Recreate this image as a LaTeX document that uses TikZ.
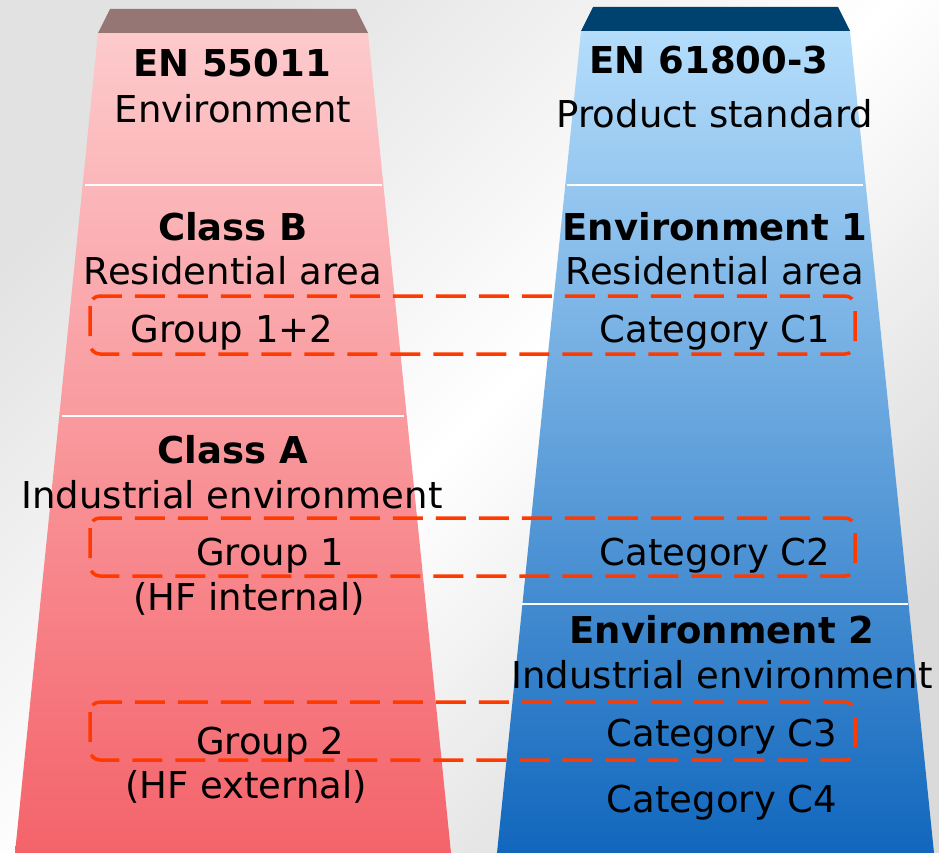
\documentclass[tikz,border=0pt]{standalone}
\usepackage{fontspec}
\setmainfont{DejaVu Sans}
\definecolor{bgA}{HTML}{E2E2E2}
\definecolor{bgB}{HTML}{DADADA}
\definecolor{pinkTop}{HTML}{FDCACC}
\definecolor{pinkMid}{HTML}{F9A6AA}
\definecolor{pinkBot}{HTML}{F4636A}
\definecolor{blueTop}{HTML}{B4DDFB}
\definecolor{blueMid}{HTML}{98C2EE}
\definecolor{blueBot}{HTML}{1167BD}
\definecolor{capL}{HTML}{957675}
\definecolor{capR}{HTML}{00426F}
\definecolor{dashred}{RGB}{255,58,0}
\begin{document}
\begin{tikzpicture}[x=1pt,y=-1pt,
  txt/.style={font=\fontsize{37}{44}\selectfont, anchor=base, inner sep=0pt},
  btxt/.style={font=\fontsize{37}{44}\selectfont\bfseries, anchor=base, inner sep=0pt},
  sepline/.style={draw=white, line width=2.5pt},
  dbox/.style={draw=dashred, line width=3.5pt, rounded corners=10pt, dash pattern=on 30pt off 13pt}]
\useasboundingbox (0,0) rectangle (939,853);
% background
\shade[top color=bgA, bottom color=bgB, middle color=white, shading angle=45] (0,0) rectangle (939,853);
% left column
\shade[top color=pinkTop, middle color=pinkMid, bottom color=pinkBot] (98,33) -- (368,33) -- (451,853) -- (15,853) -- cycle;
\fill[capL] (110,9) -- (356,9) -- (368,33) -- (98,33) -- cycle;
% right column
\shade[top color=blueTop, middle color=blueMid, bottom color=blueBot] (581,31) -- (850,31) -- (934,853) -- (497,853) -- cycle;
\fill[capR] (593,7) -- (838,7) -- (850,31) -- (581,31) -- cycle;
% separators
\draw[sepline] (85,185) -- (382,185);
\draw[sepline] (62,416) -- (404,416);
\draw[sepline] (567,185) -- (863,185);
\draw[sepline] (522,604) -- (908,604);
% dashed boxes
\draw[dbox] (90,296) rectangle (855,354);
\draw[dbox] (90,518) rectangle (855,576);
\draw[dbox] (90,702) rectangle (855,760);
% left texts
\node[btxt] (en55011) at (232,77) {EN 55011};
\node[txt] (envL) at (233,123) {Environment};
\node[btxt] (classB) at (233,240) {Class B};
\node[txt] (resL) at (233,284) {Residential area};
\node[txt] (grp12) at (232,342) {Group 1+2};
\node[btxt] (classA) at (233,463) {Class A};
\node[txt] (indL) at (232,508) {Industrial environment};
\node[txt] (grp1) at (270,565) {Group 1};
\node[txt] (hfint) at (249,610) {(HF internal)};
\node[txt] (grp2) at (270,754) {Group 2};
\node[txt] (hfext) at (246,798) {(HF external)};
% right texts
\node[btxt] (en61800) at (709,74) {EN 61800-3};
\node[txt] (prod) at (715,128) {Product standard};
\node[btxt] (env1) at (715,240) {Environment 1};
\node[txt] (resR) at (715,284) {Residential area};
\node[txt] (c1) at (715,342) {Category C1};
\node[txt] (c2) at (715,565) {Category C2};
\node[btxt] (env2) at (722,643) {Environment 2};
\node[txt] (indR) at (722,688) {Industrial environment};
\node[txt] (c3) at (722,746) {Category C3};
\node[txt] (c4) at (722,812) {Category C4};
\end{tikzpicture}
\end{document}
